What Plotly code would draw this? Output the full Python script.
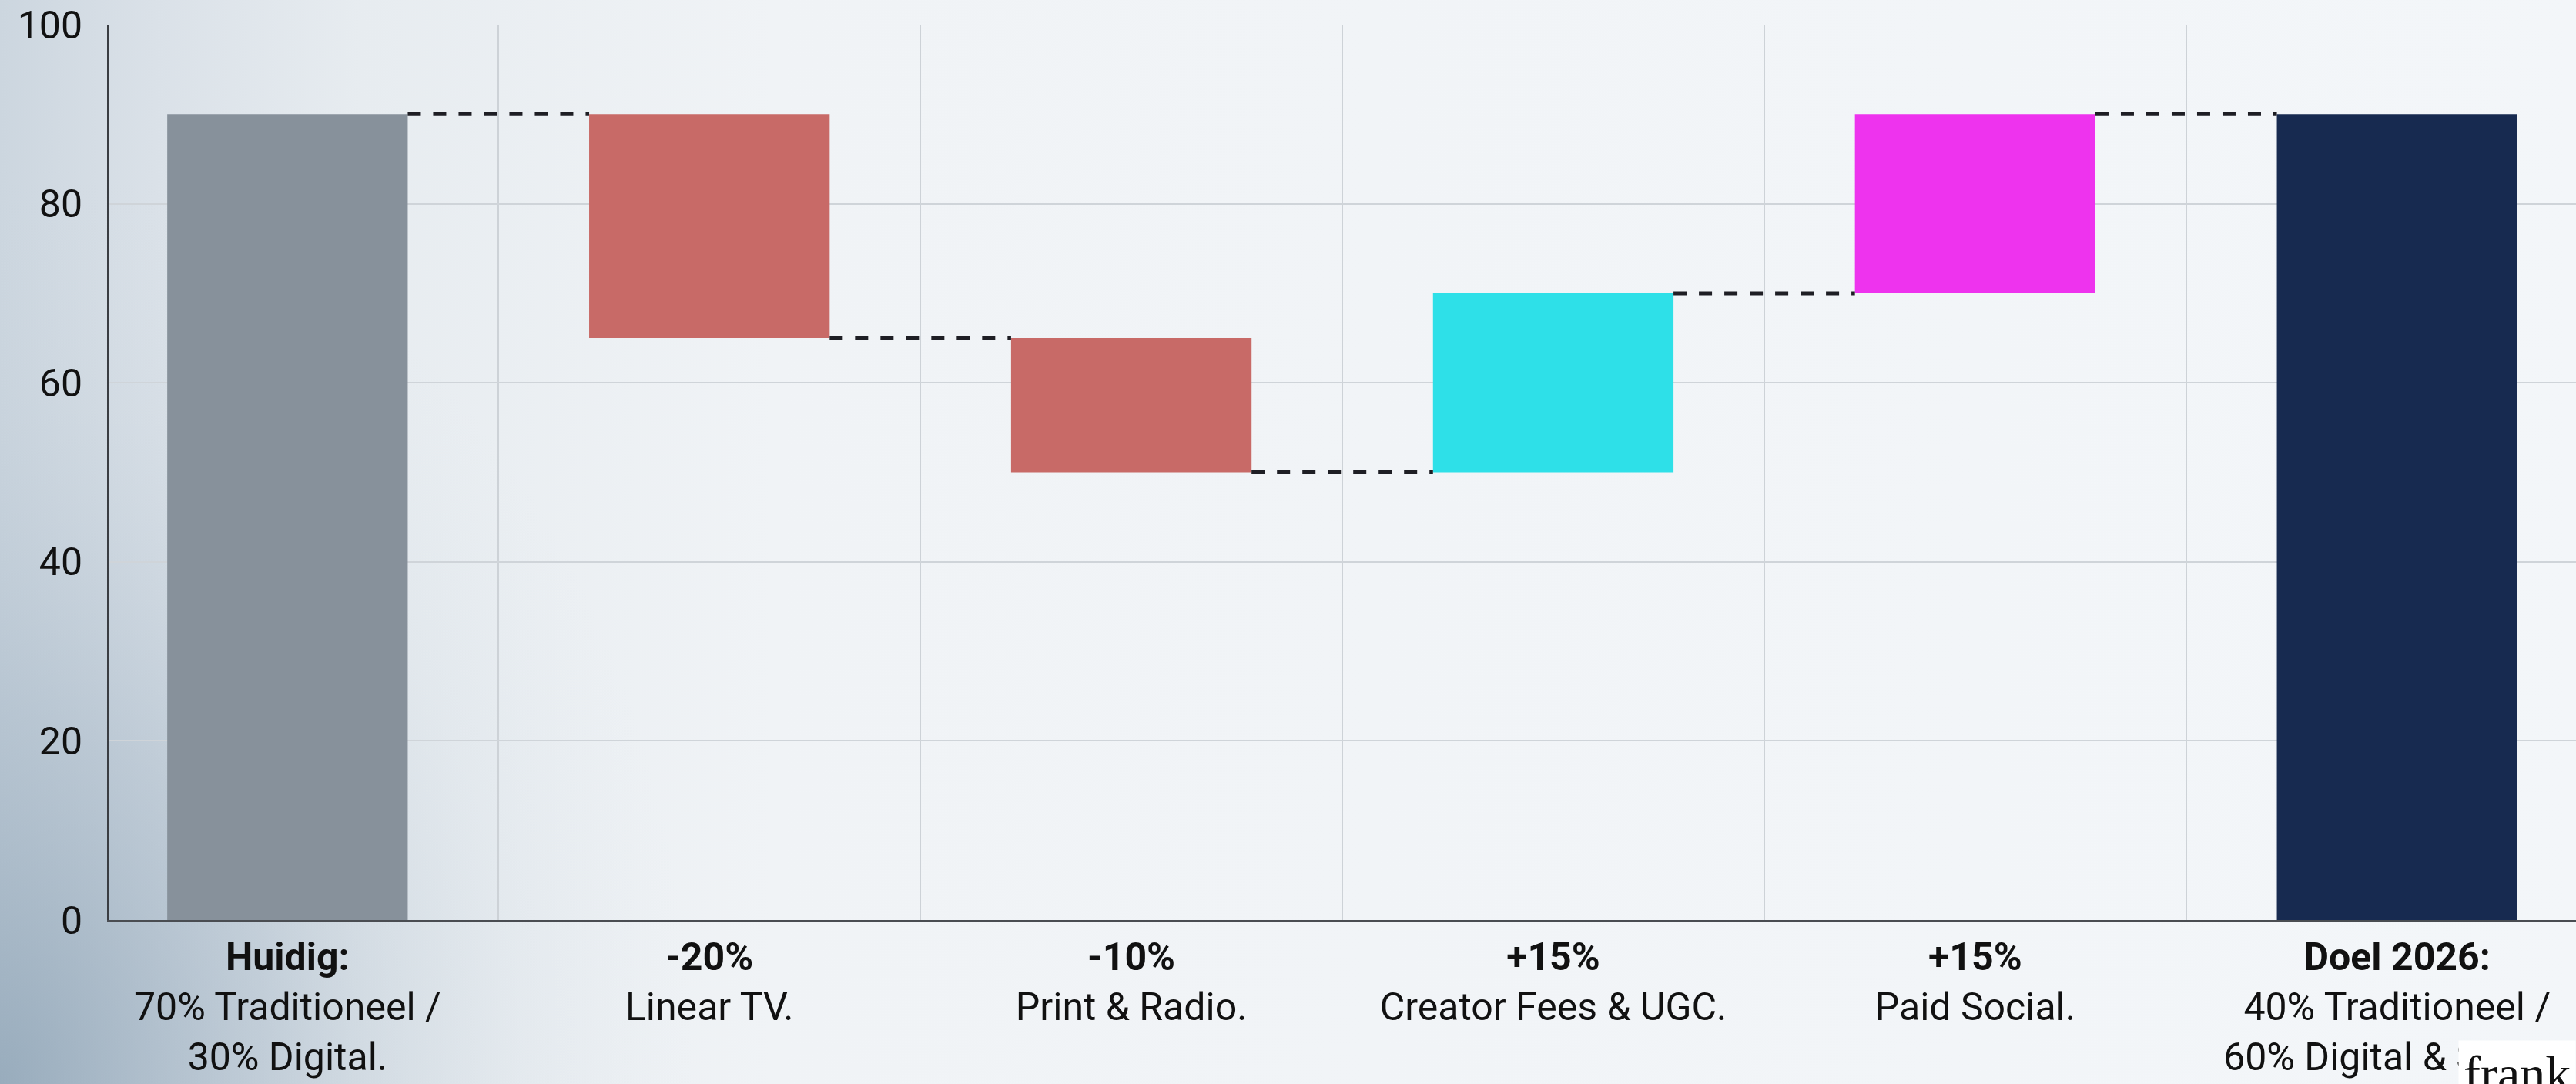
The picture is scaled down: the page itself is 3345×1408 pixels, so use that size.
import plotly.graph_objects as go

# ---- data ----
categories = ["Huidig", "Linear TV", "Print & Radio", "Creator Fees & UGC", "Paid Social", "Doel 2026"]
measures = ["absolute", "relative", "relative", "relative", "relative", "total"]
values = [90, -25, -15, 20, 20, 0]
tick_labels = [
    "<b>Huidig:</b><br>70% Traditioneel /<br>30% Digital.",
    "<b>-20%</b><br>Linear TV.",
    "<b>-10%</b><br>Print & Radio.",
    "<b>+15%</b><br>Creator Fees & UGC.",
    "<b>+15%</b><br>Paid Social.",
    "<b>Doel 2026:</b><br>40% Traditioneel /<br>60% Digital & Social.",
]
bar_colors = ["#87919b", "#c86a67", "#c86a67", "#2ee0e8", "#ee33ee", "#172a50"]
y_ticks = [0, 20, 40, 60, 80, 100]

# ---- compute waterfall geometry from data ----
bases, heights, ends = [], [], []
running = 0
for m, v in zip(measures, values):
    if m == "absolute":
        running = v
        bases.append(0); heights.append(v)
    elif m == "relative":
        start = running
        running = running + v
        bases.append(min(start, running)); heights.append(abs(v))
    else:
        bases.append(0); heights.append(running)
    ends.append(running)

BAR_W = 0.57
xs = list(range(len(categories)))

fig = go.Figure()

# background gradient (full paper)
fig.add_trace(go.Scatter(
    x=[0, 1, 1, 0, 0], y=[0, 0, 1, 1, 0], mode="lines", line=dict(width=0),
    fill="toself",
    fillgradient=dict(type="horizontal",
                      colorscale=[[0, "#ccd6df"], [0.06, "#dae1e8"], [0.14, "#e7ecf0"],
                                  [0.3, "#f0f3f6"], [1, "#f3f6f9"]]),
    hoverinfo="skip", showlegend=False, xaxis="x", yaxis="y"))
# darker bottom-left glow (radial, centred on the bottom-left corner)
fig.add_trace(go.Scatter(
    x=[-0.27, 0.27, 0.27, -0.27, -0.27], y=[-0.85, -0.85, 0.85, 0.85, -0.85],
    mode="lines", line=dict(width=0), fill="toself",
    fillgradient=dict(type="radial",
                      colorscale=[[0, "rgba(135,158,177,0.75)"], [0.4, "rgba(150,170,188,0.4)"],
                                  [0.75, "rgba(180,195,208,0.12)"], [1, "rgba(200,212,222,0)"]]),
    hoverinfo="skip", showlegend=False, xaxis="x", yaxis="y"))

# bars
fig.add_trace(go.Bar(
    x=xs, y=heights, base=bases, width=BAR_W,
    marker=dict(color=bar_colors, line=dict(width=0)),
    showlegend=False, xaxis="x2", yaxis="y2"))

# connectors
for i in range(len(categories) - 1):
    lvl = ends[i]
    fig.add_trace(go.Scatter(
        x=[xs[i] + BAR_W / 2, xs[i + 1] - BAR_W / 2], y=[lvl, lvl],
        mode="lines", line=dict(color="#1e1e24", width=5, dash="17px,16px"),
        showlegend=False, hoverinfo="skip", xaxis="x2", yaxis="y2"))

fig.update_layout(
    width=3345, height=1408,
    margin=dict(l=0, r=0, t=0, b=0, autoexpand=False),
    paper_bgcolor="#f3f6f9",
    plot_bgcolor="rgba(0,0,0,0)",
    font=dict(family="Roboto, Arial, sans-serif", color="#111111"),
    xaxis=dict(domain=[0, 1], range=[0, 1], visible=False, fixedrange=True),
    yaxis=dict(domain=[0, 1], range=[0, 1], visible=False, fixedrange=True),
    xaxis2=dict(
        domain=[141 / 3345, 1], anchor="y2", automargin=False,
        range=[-0.424, 5.424],
        tickmode="array", tickvals=xs, ticktext=tick_labels,
        tickfont=dict(size=50, color="#111111"),
        showgrid=False, zeroline=False,
        showline=True, linecolor="#4a4d52", linewidth=3,
        ticks="", ticklabelstandoff=2,
        minor=dict(tick0=0.5, dtick=1, showgrid=True, gridcolor="#cdd2d7", gridwidth=2, ticks=""),
    ),
    yaxis2=dict(
        domain=[213 / 1408, 1 - 32 / 1408], anchor="x2", automargin=False,
        range=[0, 100], tickmode="array", tickvals=y_ticks,
        tickfont=dict(size=50, color="#111111"),
        showgrid=True, gridcolor="#cfd4d9", gridwidth=2,
        zeroline=False, showline=True, linecolor="#3a3d42", linewidth=2,
        ticks="", ticklabelstandoff=22,
    ),
    annotations=[dict(
        x=1, y=0, xref="paper", yref="paper", xanchor="right", yanchor="bottom",
        text="frank", showarrow=False, yshift=-30,
        font=dict(family="Liberation Serif, serif", size=66, color="#111111"),
        bgcolor="#ffffff", borderpad=6,
    )],
)

fig.write_html("out.html")
